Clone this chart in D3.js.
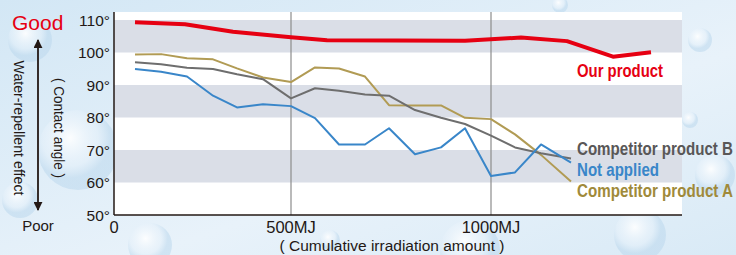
<!DOCTYPE html>
<html>
<head>
<meta charset="utf-8">
<script src="https://cdn.jsdelivr.net/npm/d3@7"></script>
<style>
  body { margin: 0; background: #e3eff8; }
  svg { display: block; font-family: "Liberation Sans", Arial, sans-serif; }
</style>
</head>
<body>
<svg width="736" height="255"></svg>
<script>
// x positions (MJ) shared by the three reference series
const stepsMJ = [110, 175, 240, 305, 365, 430, 500, 560, 620, 685, 745, 810, 875, 935, 1000, 1060, 1125, 1200];
const competitorA = [99.4, 99.5, 98.2, 97.9, 95.1, 92.3, 90.9, 95.4, 95.1, 92.6, 83.8, 83.7, 83.7, 79.9, 79.5, 74.8, 68.5, 60.3];
const competitorB = [97.0, 96.4, 95.3, 94.9, 93.3, 91.8, 85.9, 89.0, 88.2, 87.1, 86.7, 82.3, 79.9, 78.0, 74.4, 70.8, 69.0, 67.4];
const notApplied  = [94.9, 94.1, 92.6, 86.7, 83.1, 84.1, 83.5, 79.8, 71.7, 71.7, 76.7, 68.7, 70.8, 76.7, 62.0, 63.1, 71.7, 66.1];

const ourMJ = [110, 235, 355, 500, 590, 935, 1075, 1190, 1305, 1400];
const ourProduct = [109.3, 108.7, 106.4, 104.7, 103.8, 103.6, 104.6, 103.5, 98.7, 100.1];

const yTicks = [50, 60, 70, 80, 90, 100, 110];
const bands = [[100, 110], [80, 90], [60, 70]];
const xGrid = [500, 1000];
const xTickLabels = [{ v: 57.5, text: "0" }, { v: 500, text: "500MJ" }, { v: 1000, text: "1000MJ" }];

const svg = d3.select("svg");

// background with droplets
const defs = svg.append("defs");
const bg = defs.append("linearGradient").attr("id", "bg").attr("x1", 0).attr("y1", 0).attr("x2", 1).attr("y2", 1);
bg.append("stop").attr("offset", "0%").attr("stop-color", "#d3e7f5");
bg.append("stop").attr("offset", "60%").attr("stop-color", "#e8f2fa");
bg.append("stop").attr("offset", "100%").attr("stop-color", "#d9eaf6");
const drop = defs.append("radialGradient").attr("id", "drop").attr("cx", "40%").attr("cy", "35%");
drop.append("stop").attr("offset", "0%").attr("stop-color", "#ffffff").attr("stop-opacity", 0.9);
drop.append("stop").attr("offset", "70%").attr("stop-color", "#e6f1fa").attr("stop-opacity", 0.5);
drop.append("stop").attr("offset", "100%").attr("stop-color", "#bcd8ed").attr("stop-opacity", 0.55);

svg.append("rect").attr("width", 736).attr("height", 255).attr("fill", "url(#bg)");
const drops = [[30, 40, 22], [78, 150, 40], [20, 200, 18], [150, 245, 22], [470, 250, 30], [700, 40, 12], [715, 175, 20], [690, 120, 8], [560, 5, 8], [330, 240, 10], [640, 235, 26]];
svg.append("g").selectAll("circle").data(drops).join("circle")
    .attr("cx", d => d[0]).attr("cy", d => d[1]).attr("r", d => d[2])
    .attr("fill", "url(#drop)");

const plotL = 114, plotR = 682, plotT = 12, plotB = 215;

const x = d3.scaleLinear().domain([57.5, 1477.5]).range([plotL, plotR]);
const y = d3.scaleLinear().domain([50, 110]).range([plotB, 20]);

svg.append("rect").attr("x", plotL).attr("y", plotT).attr("width", plotR - plotL).attr("height", plotB - plotT).attr("fill", "#fff");

svg.append("g").selectAll("rect").data(bands).join("rect")
    .attr("x", plotL).attr("width", plotR - plotL)
    .attr("y", d => y(d[1])).attr("height", d => y(d[0]) - y(d[1]))
    .attr("fill", "#dadee7");

svg.append("g").selectAll("line").data(xGrid).join("line")
    .attr("x1", d => x(d)).attr("x2", d => x(d))
    .attr("y1", plotT).attr("y2", plotB)
    .attr("stroke", "#8c8c8c").attr("stroke-width", 1.2);

// axes lines
svg.append("line").attr("x1", plotL).attr("x2", plotL).attr("y1", plotT).attr("y2", plotB).attr("stroke", "#231815").attr("stroke-width", 1.5);
svg.append("line").attr("x1", plotL).attr("x2", plotR).attr("y1", plotB).attr("y2", plotB).attr("stroke", "#231815").attr("stroke-width", 1.5);

svg.append("g").selectAll("text").data(yTicks).join("text")
    .attr("x", 110).attr("y", d => y(d) + 5.5)
    .attr("text-anchor", "end").attr("font-size", 15.5).attr("fill", "#231815")
    .text(d => d + "°");

svg.append("g").selectAll("text").data(xTickLabels).join("text")
    .attr("x", d => x(d.v)).attr("y", 233)
    .attr("text-anchor", "middle").attr("font-size", 16.5).attr("fill", "#231815")
    .text(d => d.text);

svg.append("text").attr("x", 392).attr("y", 251).attr("text-anchor", "middle")
    .attr("font-size", 15.5).attr("fill", "#231815")
    .text("( Cumulative irradiation amount )");

// series
const line = d3.line().x(d => x(d[0])).y(d => y(d[1]));
const series = [
    { vals: competitorA, color: "#b19b54", w: 2 },
    { vals: competitorB, color: "#6e6e6e", w: 2 },
    { vals: notApplied, color: "#3986c9", w: 2 }
];
series.forEach(s => {
    svg.append("path").datum(stepsMJ.map((m, i) => [m, s.vals[i]]))
        .attr("d", line).attr("fill", "none")
        .attr("stroke", s.color).attr("stroke-width", s.w).attr("stroke-linejoin", "round");
});
svg.append("path").datum(ourMJ.map((m, i) => [m, ourProduct[i]]))
    .attr("d", line).attr("fill", "none")
    .attr("stroke", "#e60012").attr("stroke-width", 4).attr("stroke-linejoin", "round");

// series labels (condensed look via textLength)
const labels = [
    { text: "Our product", y: 77, color: "#e60012", len: 86 },
    { text: "Competitor product B", y: 155, color: "#595757", len: 156 },
    { text: "Not applied", y: 176, color: "#3986c9", len: 82 },
    { text: "Competitor product A", y: 197, color: "#a08a3a", len: 156 }
];
svg.append("g").selectAll("text").data(labels).join("text")
    .attr("x", 577).attr("y", d => d.y)
    .attr("font-weight", "bold").attr("font-size", 18)
    .attr("textLength", d => d.len).attr("lengthAdjust", "spacingAndGlyphs")
    .attr("fill", d => d.color)
    .text(d => d.text);

// left side legend
svg.append("text").attr("x", 12).attr("y", 30).attr("font-size", 21).attr("fill", "#e60012").text("Good");
svg.append("text").attr("x", 38).attr("y", 231).attr("text-anchor", "middle").attr("font-size", 15).attr("fill", "#231815").text("Poor");

defs.append("marker").attr("id", "arr").attr("viewBox", "0 0 10 10").attr("refX", 9).attr("refY", 5)
    .attr("markerWidth", 5).attr("markerHeight", 5).attr("orient", "auto-start-reverse")
    .append("path").attr("d", "M0,0 L10,5 L0,10 Z").attr("fill", "#231815");
svg.append("line").attr("x1", 38).attr("x2", 38).attr("y1", 40).attr("y2", 210)
    .attr("stroke", "#231815").attr("stroke-width", 1.8)
    .attr("marker-start", "url(#arr)").attr("marker-end", "url(#arr)");

svg.append("text").attr("transform", "translate(14,128) rotate(90)")
    .attr("text-anchor", "middle").attr("font-size", 14).attr("fill", "#231815")
    .attr("textLength", 135).attr("lengthAdjust", "spacingAndGlyphs")
    .text("Water-repellent effect");
svg.append("text").attr("transform", "translate(54,128) rotate(90)")
    .attr("text-anchor", "middle").attr("font-size", 14).attr("fill", "#231815")
    .attr("textLength", 100).attr("lengthAdjust", "spacingAndGlyphs")
    .text("( Contact angle )");
</script>
</body>
</html>
